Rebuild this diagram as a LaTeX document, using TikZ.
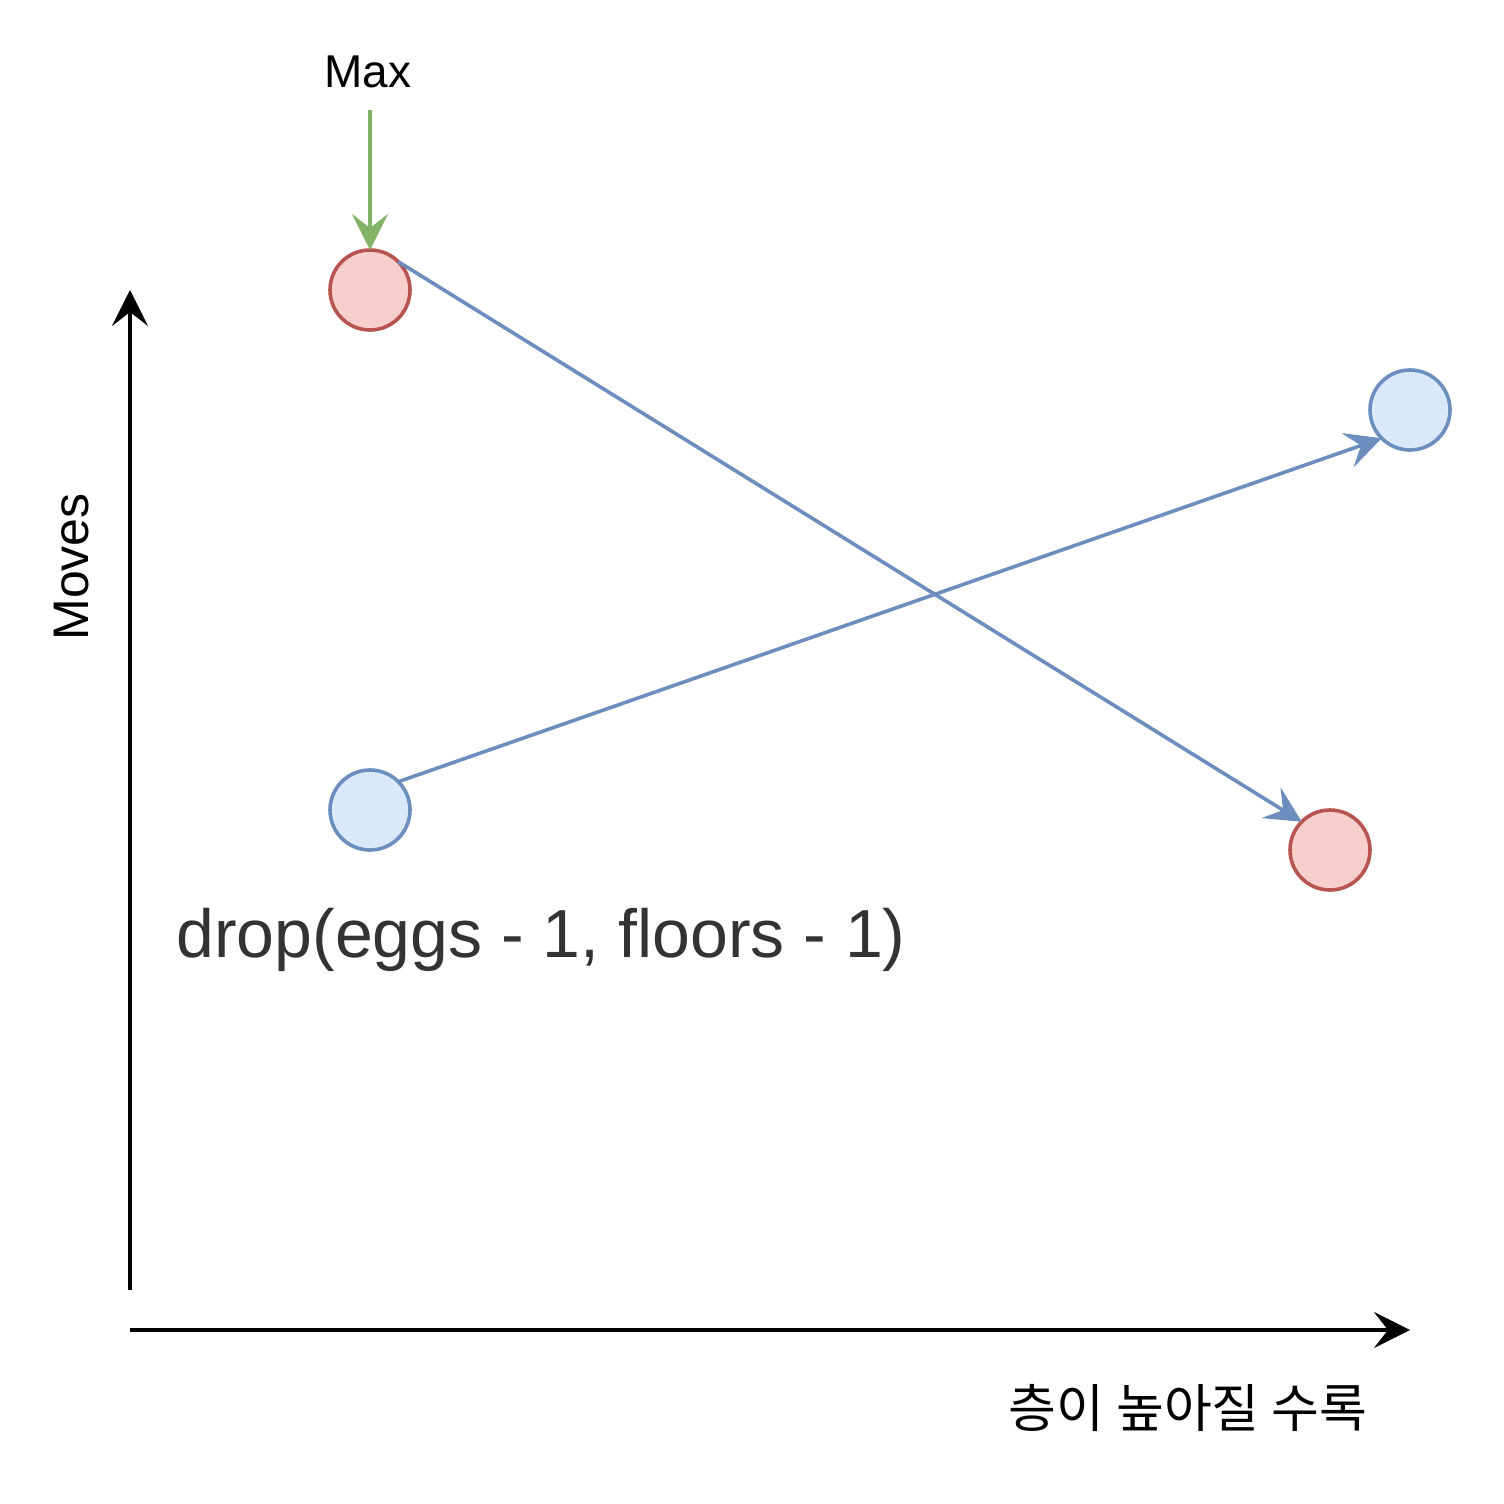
\documentclass[tikz,border=0pt]{standalone}
\usepackage{fontspec}
\setmainfont{Liberation Sans}
\newfontfamily\krfont{Noto Sans CJK KR}
\usetikzlibrary{arrows.meta}
\definecolor{redS}{HTML}{B85450}
\definecolor{redF}{HTML}{F8CECC}
\definecolor{bluS}{HTML}{6C8EBF}
\definecolor{bluF}{HTML}{DAE8FC}
\definecolor{grnS}{HTML}{82B366}
\definecolor{txtG}{HTML}{333333}
\begin{document}
\begin{tikzpicture}[x=0.5pt,y=-0.5pt,
  tip/.style={-{Stealth[length=18pt,width=18pt,inset=7pt]}},
  ball/.style={circle,line width=1.8pt,minimum size=40pt,inner sep=0pt,outer sep=0pt},
  redball/.style={ball,draw=redS,fill=redF},
  bluball/.style={ball,draw=bluS,fill=bluF},
  axis/.style={tip,line width=1.8pt,black},
  conn/.style={tip,line width=1.8pt,bluS},
  lbl/.style={inner sep=0pt,font=\fontsize{23pt}{27pt}\selectfont}]
\useasboundingbox (0,0) rectangle (1504,1504);
% axes
\coordinate (yb) at (130,1290);
\coordinate (yt) at (130,290);
\coordinate (xl) at (130,1330);
\coordinate (xr) at (1410,1330);
\draw[axis] (yb) -- (yt);
\draw[axis] (xl) -- (xr);
% labels
\node[lbl,rotate=90,font=\fontsize{25pt}{29pt}\selectfont] (moves) at (72,567) {Moves};
\node[lbl,font=\krfont\fontsize{26pt}{30pt}\selectfont] (kr) at (1188,1408) {층이 높아질 수록};
\node[lbl] (max) at (368,72) {Max};
\node[inner sep=0pt,anchor=base,text=txtG,font=\fontsize{34pt}{40pt}\selectfont] (drop) at (541,957) {drop(eggs - 1, floors - 1)};
% circles
\node[redball] (r1) at (370,290) {};
\node[redball] (r2) at (1330,850) {};
\node[bluball] (b1) at (370,810) {};
\node[bluball] (b2) at (1410,410) {};
% connectors
\coordinate (ms) at (370,110);
\draw[tip,line width=1.8pt,grnS] (ms) -- (r1.north);
\draw[conn] (r1.north east) -- (r2.north west);
\draw[conn] (b1.north east) -- (b2.south west);
\end{tikzpicture}
\end{document}
